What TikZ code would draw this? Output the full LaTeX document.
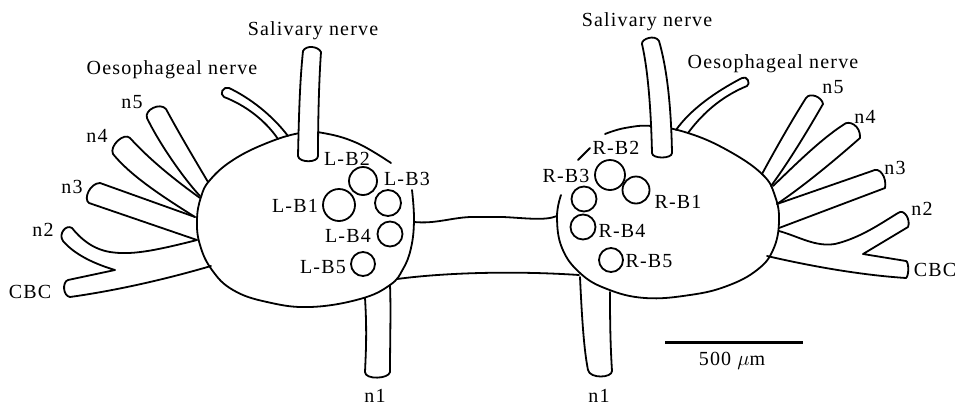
\documentclass[tikz,border=0pt]{standalone}
\usepackage{fontspec}
\setmainfont{Liberation Serif}[LetterSpace=6]

\begin{document}
\begin{tikzpicture}[x=1pt,y=-1pt,
  nerve/.style={line width=1.8pt, line join=round, line cap=round},
  cell/.style={circle, draw, line width=1.8pt, inner sep=0pt},
  lbl/.style={anchor=base, inner sep=0pt, font=\fontsize{20}{22}\selectfont}]
\useasboundingbox (0,0) rectangle (964,405);

% left ganglion
\draw[nerve] plot[smooth, tension=0.7] coordinates {(412,190) (414,220) (411,248) (403,269) (390,285) (360,299) (310,307) (267,302) (233,290) (212,270) (200,245) (197,220) (201,197) (210,180) (233,160) (267,143) (300,133) (323,133) (357,143) (391,163)};
% right ganglion
\draw[nerve] plot[smooth, tension=0.7] coordinates {(561,195) (557,217) (562,248) (580,273) (607,289) (645,298) (690,295) (727,286) (757,270) (773,250) (779,222) (775,196) (762,174) (727,150) (688,133) (652,126) (625,128) (605,134)};
\draw[nerve] (578,160) -- (590,148);

% connectives
\draw[nerve] (414,222) .. controls (435,224) and (450,218) .. (470,217) -- (503,217) .. controls (525,218) and (545,221) .. (557,216);
\draw[nerve] (397,279) .. controls (450,272) and (520,271) .. (579,275);

% left nerves
\draw[nerve] (200,196) .. controls (185,180) and (160,145) .. (147,118) .. controls (144,110) and (160,102) .. (166,109) .. controls (180,135) and (195,160) .. (208,182);
\draw[nerve] (195,217) .. controls (160,195) and (130,175) .. (113,154) .. controls (109,146) and (124,132) .. (130,138) .. controls (150,160) and (175,180) .. (200,198);
\draw[nerve] (197,240) -- (89,203) .. controls (83,199) and (90,183) .. (100,183) -- (195,217);
\draw[nerve] (197,240) .. controls (150,252) and (130,255) .. (110,252) .. controls (92,249) and (80,238) .. (72,228) .. controls (66,224) and (58,234) .. (63,241) .. controls (75,255) and (95,264) .. (115,270) -- (68,280) .. controls (62,282) and (63,296) .. (70,297) .. controls (120,290) and (170,278) .. (211,266);
\draw[nerve] (278,139) .. controls (265,120) and (245,105) .. (224,97) .. controls (219,94) and (223,86) .. (229,88) .. controls (250,98) and (272,115) .. (288,136);
\draw[nerve] (365,298) .. controls (367,330) and (366,350) .. (365,372) .. controls (365,380) and (389,379) .. (390,372) .. controls (390,340) and (391,310) .. (390,285);
\draw[nerve, fill=white] (298,156) .. controls (299,110) and (300,80) .. (303,51) .. controls (306,45) and (318,46) .. (321,52) .. controls (319,80) and (318,120) .. (318,156) .. controls (318,163) and (299,163) .. (298,156) -- cycle;

% right nerves
\draw[nerve] (762,174) .. controls (775,150) and (792,120) .. (806,98) .. controls (810,92) and (822,97) .. (823,104) .. controls (808,130) and (790,160) .. (771,186);
\draw[nerve] (773,186) .. controls (795,165) and (820,140) .. (843,125) .. controls (849,119) and (861,126) .. (860,138) .. controls (835,160) and (805,185) .. (777,204);
\draw[nerve] (777,204) -- (872,171) .. controls (880,166) and (887,178) .. (885,188) -- (779,228);
\draw[nerve] (779,231) .. controls (800,237) and (815,247) .. (835,244) .. controls (860,238) and (880,224) .. (898,213) .. controls (904,208) and (911,220) .. (908,227) -- (863,254) -- (906,261) .. controls (909,262) and (909,276) .. (906,278) .. controls (860,275) and (810,266) .. (767,256);
\draw[nerve] (688,133) .. controls (705,110) and (725,95) .. (747,86) .. controls (751,84) and (747,75) .. (742,78) .. controls (715,92) and (690,110) .. (676,130);
\draw[nerve] (580,277) .. controls (582,320) and (584,350) .. (588,370) .. controls (590,379) and (612,378) .. (612,371) .. controls (610,340) and (610,310) .. (610,292);
\draw[nerve, fill=white] (652,153) .. controls (651,110) and (648,70) .. (642,44) .. controls (641,39) and (655,34) .. (659,41) .. controls (666,65) and (671,100) .. (672,153) .. controls (672,159) and (652,159) .. (652,153) -- cycle;

% cells
\node[cell, minimum size=32pt] (LB1) at (339,205) {};
\node[cell, minimum size=28pt] (LB2) at (363,181) {};
\node[cell, minimum size=26pt] (LB3) at (388,203) {};
\node[cell, minimum size=25pt] (LB4) at (390,234) {};
\node[cell, minimum size=24pt] (LB5) at (363,264) {};
\node[cell, minimum size=27pt] (RB1) at (636,190) {};
\node[cell, minimum size=30pt] (RB2) at (610,175) {};
\node[cell, minimum size=25pt] (RB3) at (584,199) {};
\node[cell, minimum size=25pt] (RB4) at (583,227) {};
\node[cell, minimum size=24pt] (RB5) at (611,260) {};

% labels
\node[lbl] (salL) at (313,35) {Salivary nerve};
\node[lbl] (oesL) at (172,74) {Oesophageal nerve};
\node[lbl] (n5L) at (132,108) {n5};
\node[lbl] (n4L) at (97,142) {n4};
\node[lbl] (n3L) at (72,193) {n3};
\node[lbl] (n2L) at (43,236) {n2};
\node[lbl] (cbcL) at (30,298) {CBC};
\node[lbl] (n1L) at (375,402) {n1};
\node[lbl] (lb2) at (347,165) {L-B2};
\node[lbl] (lb3) at (407,185) {L-B3};
\node[lbl] (lb1) at (295,212) {L-B1};
\node[lbl] (lb4) at (348,242) {L-B4};
\node[lbl] (lb5) at (323,273) {L-B5};

\node[lbl] (salR) at (647,26) {Salivary nerve};
\node[lbl] (oesR) at (773,68) {Oesophageal nerve};
\node[lbl] (n5R) at (833,93) {n5};
\node[lbl] (n4R) at (865,123) {n4};
\node[lbl] (n3R) at (895,174) {n3};
\node[lbl] (n2R) at (922,215) {n2};
\node[lbl] (cbcR) at (935,276) {CBC};
\node[lbl] (n1R) at (599,402) {n1};
\node[lbl] (rb2) at (616,154) {R-B2};
\node[lbl] (rb3) at (566,182) {R-B3};
\node[lbl] (rb1) at (678,208) {R-B1};
\node[lbl] (rb4) at (622,237) {R-B4};
\node[lbl] (rb5) at (649,267) {R-B5};

% scale bar
\coordinate (barl) at (665,342);
\coordinate (barr) at (803,342);
\draw[line width=3pt] (barl) -- (barr);
\node[lbl] (bar) at (732,365) {500 $\mu$m};
\end{tikzpicture}
\end{document}
